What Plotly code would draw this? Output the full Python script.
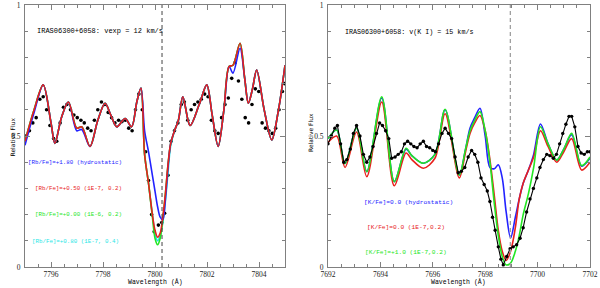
import plotly.graph_objects as go

# ---------------- Left panel (Rb I 7800 A) ----------------
L_WAVE = [7795.0, 7795.35, 7795.7, 7796.0, 7796.15, 7796.4, 7796.67, 7796.99, 7797.18, 7797.5,
          7797.8, 7798.08, 7798.3, 7798.53, 7798.85, 7799.1, 7799.3, 7799.46, 7799.6, 7799.75,
          7799.9, 7800.0, 7800.1, 7800.2, 7800.3, 7800.4, 7800.5, 7800.6, 7800.75, 7800.9,
          7801.07, 7801.35, 7801.7, 7801.99, 7802.2, 7802.43, 7802.65, 7802.85, 7803.0, 7803.27,
          7803.45, 7803.59, 7803.75, 7803.91, 7804.2, 7804.49, 7804.75, 7805.0]
L_RED = [0.48, 0.60, 0.695, 0.55, 0.472, 0.57, 0.63, 0.53, 0.535, 0.46,
         0.56, 0.625, 0.58, 0.535, 0.567, 0.535, 0.63, 0.683, 0.43, 0.32,
         0.20, 0.14, 0.114, 0.13, 0.19, 0.28, 0.39, 0.47, 0.52, 0.56,
         0.65, 0.54, 0.62, 0.695, 0.58, 0.46, 0.60, 0.765, 0.77, 0.854,
         0.72, 0.625, 0.68, 0.752, 0.60, 0.485, 0.60, 0.77]
L_BLUE = [0.465, 0.59, 0.695, 0.55, 0.472, 0.57, 0.63, 0.52, 0.525, 0.46,
          0.56, 0.625, 0.58, 0.535, 0.567, 0.535, 0.63, 0.683, 0.52, 0.44,
          0.35, 0.29, 0.23, 0.19, 0.18, 0.26, 0.38, 0.47, 0.52, 0.56,
          0.65, 0.54, 0.62, 0.695, 0.58, 0.46, 0.60, 0.765, 0.74, 0.835,
          0.72, 0.625, 0.68, 0.752, 0.60, 0.485, 0.60, 0.77]
L_GREEN = [0.48, 0.60, 0.695, 0.55, 0.472, 0.57, 0.63, 0.53, 0.535, 0.46,
           0.56, 0.625, 0.58, 0.535, 0.567, 0.535, 0.63, 0.683, 0.43, 0.32,
           0.19, 0.11, 0.085, 0.11, 0.18, 0.28, 0.39, 0.47, 0.52, 0.56,
           0.65, 0.54, 0.62, 0.695, 0.58, 0.46, 0.60, 0.765, 0.77, 0.854,
           0.72, 0.625, 0.68, 0.752, 0.60, 0.485, 0.60, 0.77]
L_CYAN = [0.48, 0.60, 0.695, 0.55, 0.472, 0.57, 0.63, 0.53, 0.535, 0.46,
          0.56, 0.625, 0.58, 0.535, 0.567, 0.535, 0.63, 0.683, 0.43, 0.32,
          0.20, 0.13, 0.10, 0.12, 0.17, 0.25, 0.36, 0.46, 0.52, 0.56,
          0.65, 0.54, 0.62, 0.695, 0.58, 0.46, 0.60, 0.765, 0.77, 0.854,
          0.72, 0.625, 0.68, 0.752, 0.60, 0.485, 0.60, 0.77]

L_OBS_WAVE = [7795.05, 7795.17, 7795.30, 7795.43, 7795.57, 7795.70, 7795.83, 7795.96, 7796.10, 7796.22,
              7796.35, 7796.48, 7796.61, 7796.75, 7796.88, 7797.01, 7797.15, 7797.28, 7797.41, 7797.54,
              7797.67, 7797.80, 7797.94, 7798.07, 7798.20, 7798.33, 7798.46, 7798.60, 7798.73, 7798.86,
              7798.99, 7799.12, 7799.25, 7799.38, 7799.51, 7799.64, 7799.75, 7799.87, 7799.97, 7800.13,
              7800.26, 7800.37, 7800.50, 7800.62, 7800.75, 7800.88, 7801.01, 7801.13, 7801.26, 7801.39,
              7801.52, 7801.65, 7801.78, 7801.91, 7802.04, 7802.17, 7802.30, 7802.43, 7802.56, 7802.69,
              7802.82, 7802.95, 7803.08, 7803.21, 7803.34, 7803.47, 7803.60, 7803.73, 7803.86, 7803.99,
              7804.12, 7804.25, 7804.38, 7804.51, 7804.64, 7804.77, 7804.90, 7804.98]
L_OBS_FLUX = [0.50, 0.52, 0.55, 0.57, 0.64, 0.65, 0.60, 0.54, 0.49, 0.48,
              0.55, 0.61, 0.62, 0.60, 0.58, 0.57, 0.56, 0.55, 0.53, 0.52,
              0.56, 0.60, 0.63, 0.62, 0.59, 0.57, 0.55, 0.56, 0.555, 0.56,
              0.53, 0.52, 0.60, 0.66, 0.60, 0.44, 0.33, 0.20, 0.135, 0.16,
              0.17, 0.205, 0.35, 0.48, 0.52, 0.55, 0.62, 0.63, 0.56, 0.60,
              0.62, 0.63, 0.64, 0.66, 0.65, 0.56, 0.52, 0.51, 0.57, 0.62,
              0.645, 0.72, 0.78, 0.71, 0.64, 0.57, 0.55, 0.62, 0.68, 0.67,
              0.55, 0.53, 0.52, 0.51, 0.53, 0.60, 0.67, 0.70]

# ---------------- Right panel (K I 7699 A) ----------------
R_WAVE = [7692.0, 7692.33, 7692.65, 7693.09, 7693.48, 7694.05, 7694.53, 7694.98, 7695.2, 7695.64,
          7696.08, 7696.47, 7697.01, 7697.25, 7697.42, 7697.6, 7697.8, 7698.0, 7698.18, 7698.35,
          7698.5, 7698.65, 7698.8, 7698.97, 7699.15, 7699.3, 7699.45, 7699.65, 7699.85, 7700.11,
          7700.4, 7700.73, 7701.0, 7701.3, 7701.68, 7702.0]
R_GREEN = [0.49, 0.523, 0.395, 0.53, 0.364, 0.65, 0.326, 0.453, 0.425, 0.396,
           0.43, 0.602, 0.351, 0.45, 0.52, 0.56, 0.593, 0.52, 0.40, 0.24,
           0.12, 0.04, 0.008, 0.015, 0.06, 0.12, 0.20, 0.28, 0.38, 0.535,
           0.47, 0.408, 0.45, 0.51, 0.387, 0.42]
R_RED = [0.475, 0.50, 0.38, 0.515, 0.345, 0.63, 0.31, 0.435, 0.41, 0.377,
         0.415, 0.585, 0.34, 0.44, 0.51, 0.55, 0.578, 0.52, 0.41, 0.27,
         0.14, 0.06, 0.025, 0.06, 0.15, 0.26, 0.32, 0.37, 0.42, 0.52,
         0.46, 0.40, 0.44, 0.49, 0.37, 0.40]
R_BLUE = [0.49, 0.523, 0.395, 0.53, 0.364, 0.645, 0.326, 0.45, 0.425, 0.396,
          0.43, 0.60, 0.351, 0.45, 0.53, 0.57, 0.606, 0.50, 0.38, 0.375,
          0.39, 0.34, 0.21, 0.11, 0.19, 0.26, 0.32, 0.37, 0.43, 0.546,
          0.47, 0.408, 0.45, 0.505, 0.385, 0.415]

R_OBS_WAVE = [7692.00, 7692.13, 7692.26, 7692.36, 7692.48, 7692.60, 7692.72, 7692.85, 7692.97, 7693.09,
              7693.22, 7693.35, 7693.48, 7693.60, 7693.72, 7693.85, 7693.97, 7694.08, 7694.20, 7694.32,
              7694.43, 7694.56, 7694.68, 7694.80, 7694.92, 7695.04, 7695.16, 7695.28, 7695.40, 7695.52,
              7695.64, 7695.76, 7695.88, 7696.00, 7696.10, 7696.22, 7696.35, 7696.47, 7696.60, 7696.72,
              7696.85, 7696.97, 7697.09, 7697.22, 7697.35, 7697.48, 7697.60, 7697.72, 7697.84, 7697.96,
              7698.08, 7698.18, 7698.28, 7698.38, 7698.50, 7698.60, 7698.69, 7698.82, 7698.95, 7699.07,
              7699.20, 7699.33, 7699.45, 7699.58, 7699.71, 7699.84, 7699.97, 7700.09, 7700.22, 7700.35,
              7700.47, 7700.60, 7700.72, 7700.84, 7700.96, 7701.08, 7701.20, 7701.30, 7701.42, 7701.54,
              7701.66, 7701.78, 7701.90, 7702.00]
R_OBS_FLUX = [0.47, 0.50, 0.53, 0.54, 0.47, 0.40, 0.41, 0.45, 0.51, 0.54,
              0.50, 0.43, 0.40, 0.42, 0.46, 0.51, 0.55, 0.54, 0.52, 0.49,
              0.415, 0.42, 0.43, 0.44, 0.47, 0.48, 0.47, 0.46, 0.455, 0.47,
              0.48, 0.46, 0.455, 0.445, 0.44, 0.47, 0.51, 0.53, 0.51, 0.49,
              0.42, 0.36, 0.365, 0.38, 0.42, 0.445, 0.43, 0.40, 0.34, 0.315,
              0.29, 0.25, 0.19, 0.14, 0.077, 0.03, 0.008, 0.04, 0.07, 0.077,
              0.085, 0.11, 0.15, 0.21, 0.26, 0.30, 0.34, 0.38, 0.41, 0.43,
              0.425, 0.415, 0.43, 0.47, 0.51, 0.545, 0.575, 0.575, 0.535, 0.46,
              0.435, 0.43, 0.44, 0.44]

RB_LINE = 7800.27
K_LINE = 7698.96

Y_TICKS = [0, 0.5, 1]
Y_TICK_TEXT = ["0&nbsp;", "0.5&nbsp;", "1&nbsp;"]

LEFT_TITLE = "IRAS06300+6058: vexp = 12 km/s"
RIGHT_TITLE = "IRAS06300+6058: v(K I) = 15 km/s"
LEFT_LABELS = ["[Rb/Fe]=+1.80 (hydrostatic)", "[Rb/Fe]=+0.50 (1E-7, 0.2)",
               "[Rb/Fe]=+0.00 (1E-6, 0.2)", "[Rb/Fe]=+0.80 (1E-7, 0.4)"]
RIGHT_LABELS = ["[K/Fe]=0.0 (hydrostatic)", "[K/Fe]=0.0 (1E-7,0.2)", "[K/Fe]=+1.0 (1E-7,0.2)"]

BLUE = "#2222ff"
RED = "#e8201c"
GREEN = "#22e622"
CYAN = "#1ee6e6"
AXC = "#808080"

W, H = 600, 288
fig = go.Figure()

def spline(x, y, color, xa, ya):
    return go.Scatter(x=x, y=y, mode="lines", line=dict(color=color, width=1.6, shape="spline", smoothing=0.9),
                      xaxis=xa, yaxis=ya, hoverinfo="skip", showlegend=False)

# left panel
fig.add_trace(go.Scatter(x=L_OBS_WAVE, y=L_OBS_FLUX, mode="markers",
                         marker=dict(color="black", size=3.6), xaxis="x", yaxis="y", showlegend=False))
fig.add_trace(spline(L_WAVE, L_CYAN, CYAN, "x", "y"))
fig.add_trace(spline(L_WAVE, L_GREEN, GREEN, "x", "y"))
fig.add_trace(spline(L_WAVE, L_BLUE, BLUE, "x", "y"))
fig.add_trace(spline(L_WAVE, L_RED, RED, "x", "y"))

# right panel
fig.add_trace(spline(R_WAVE, R_BLUE, BLUE, "x2", "y2"))
fig.add_trace(spline(R_WAVE, R_RED, RED, "x2", "y2"))
fig.add_trace(spline(R_WAVE, R_GREEN, GREEN, "x2", "y2"))
fig.add_trace(go.Scatter(x=R_OBS_WAVE, y=R_OBS_FLUX, mode="lines+markers",
                         line=dict(color="black", width=1.1),
                         marker=dict(color="black", size=3.4), xaxis="x2", yaxis="y2", showlegend=False))

# rest-wavelength markers
fig.add_shape(type="line", xref="x", yref="y", x0=RB_LINE, x1=RB_LINE, y0=0, y1=1,
              line=dict(color="#444444", width=1, dash="4px,3px"))
fig.add_shape(type="line", xref="x2", yref="y2", x0=K_LINE, x1=K_LINE, y0=0, y1=1,
              line=dict(color="#a0a0a0", width=1.3, dash="4px,3px"))

tickfont = dict(family="Liberation Serif", size=7.5, color="#222")

def xaxis(dom, rng, t0):
    return dict(domain=dom, range=rng, tick0=t0, dtick=2, ticks="inside", ticklen=5, tickcolor=AXC,
                minor=dict(dtick=0.5, ticks="inside", ticklen=2.5, tickcolor=AXC),
                showline=True, linecolor=AXC, linewidth=1.2, mirror="allticks", showgrid=False,
                zeroline=False, tickfont=tickfont, automargin=False, fixedrange=True)

def yaxis(anchor):
    return dict(domain=[21 / H, 1 - 5 / H], range=[0, 1], tickvals=Y_TICKS, ticktext=Y_TICK_TEXT,
                ticks="inside", ticklen=5, tickcolor=AXC,
                minor=dict(dtick=0.1, tick0=0, ticks="inside", ticklen=2.5, tickcolor=AXC),
                showline=True, linecolor=AXC, linewidth=1.2, mirror="allticks", showgrid=False,
                zeroline=False, tickfont=tickfont, anchor=anchor, automargin=False, fixedrange=True)

fig.update_layout(
    width=W, height=H, margin=dict(l=0, r=0, t=0, b=0), template="none",
    paper_bgcolor="white", plot_bgcolor="white", showlegend=False,
    xaxis=xaxis([25 / W, 285 / W], [7795, 7805], 7796),
    yaxis=yaxis("x"),
    xaxis2=xaxis([328 / W, 590 / W], [7692, 7702], 7692),
    yaxis2=yaxis("x2"),
)
fig.layout.xaxis2.anchor = "y2"

mono = "Liberation Mono"

def ann(text, xp, yp, size, color="black", **kw):
    fig.add_annotation(text=text, x=xp / W, y=1 - yp / H, xref="paper", yref="paper",
                       showarrow=False, font=dict(family=mono, size=size, color=color), **kw)

ann(LEFT_TITLE, 35, 31, 7, xanchor="left", yanchor="middle")
ann(RIGHT_TITLE, 343, 32, 6.7, xanchor="left", yanchor="middle")
for txt, col, xp, yp in zip(LEFT_LABELS, [BLUE, RED, GREEN, CYAN], [26, 33, 33, 30], [162, 188, 214.5, 241]):
    ann(txt, xp, yp, 5.8, col, xanchor="left", yanchor="middle")
for txt, col, xp, yp in zip(RIGHT_LABELS, [BLUE, RED, GREEN], [362, 365, 363], [202, 227.5, 252.5]):
    ann(txt, xp, yp, 6.2, col, xanchor="left", yanchor="middle")

# axis titles
ann("Wavelength (Å)", 155, 282, 6.5, xanchor="center", yanchor="middle")
ann("Wavelength (Å)", 458, 282, 6.5, xanchor="center", yanchor="middle")
fig.add_annotation(text="Relative Flux", x=6 / W, y=1 - 137 / H, xref="paper", yref="paper", showarrow=False,
                   textangle=-90, font=dict(family="DejaVu Sans", size=6, color="black"))
fig.add_annotation(text="Relative Flux", x=310 / W, y=1 - 133 / H, xref="paper", yref="paper", showarrow=False,
                   textangle=-90, font=dict(family="DejaVu Sans", size=6, color="black"))

fig.write_html("out.html", config={"displayModeBar": False},
               post_script="document.body.style.margin='0';document.body.style.overflow='hidden';")
